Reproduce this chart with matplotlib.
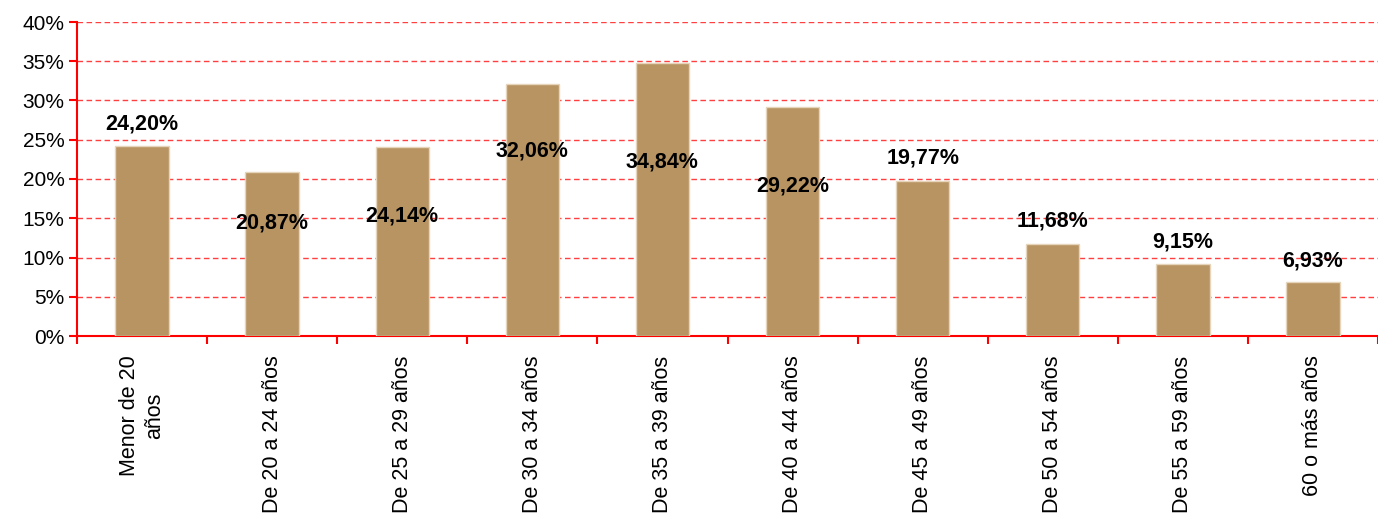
import matplotlib.pyplot as plt
from matplotlib.ticker import FixedLocator, PercentFormatter

plt.rcParams['font.family'] = ['Liberation Sans', 'DejaVu Sans']

categories = ["Menor de 20\naños", "De 20 a 24 años", "De 25 a 29 años",
              "De 30 a 34 años", "De 35 a 39 años", "De 40 a 44 años",
              "De 45 a 49 años", "De 50 a 54 años", "De 55 a 59 años",
              "60 o más años"]
values = [24.20, 20.87, 24.14, 32.06, 34.84, 29.22, 19.77, 11.68, 9.15, 6.93]
labels = ["24,20%", "20,87%", "24,14%", "32,06%", "34,84%", "29,22%",
          "19,77%", "11,68%", "9,15%", "6,93%"]
# where each data label sits (y in %), as in the original
label_y = [27.0, 14.4, 15.3, 23.6, 22.2, 19.1, 22.7, 14.6, 12.0, 9.6]

red = "#FF0000"

fig = plt.figure(figsize=(13.78, 5.17), dpi=100)
ax = fig.add_axes([77 / 1378, 1 - 336 / 517, 1 - 77 / 1378, (336 - 22) / 517])

x = range(len(categories))
ax.bar(x, values, width=0.41, color="#B89462", edgecolor="#E6D5BA",
       linewidth=1, zorder=3)

for i, (lab, ly) in enumerate(zip(labels, label_y)):
    ax.text(i, ly, lab, ha="center", va="center", fontsize=15.5,
            fontweight="bold", color="black", zorder=4)

ax.set_xlim(-0.5, len(categories) - 0.5)
ax.set_ylim(0, 40)
ax.set_yticks(range(0, 41, 5))
ax.yaxis.set_major_formatter(PercentFormatter(decimals=0))
ax.yaxis.grid(True, color="#FF4040", linestyle=(0, (4, 2.5)), linewidth=1)
ax.set_axisbelow(True)

ax.set_xticks(list(x))
ax.set_xticklabels(categories, rotation=90, va="top", ha="center",
                   multialignment="center")
ax.xaxis.set_minor_locator(FixedLocator([i - 0.5 for i in range(len(categories) + 1)]))
ax.tick_params(axis="x", which="major", length=0, pad=14, labelsize=15.5)
ax.tick_params(axis="x", which="minor", length=6, width=1.5, color=red)
ax.tick_params(axis="y", length=6, width=1.5, color=red, labelsize=15, pad=3)

for side in ("top", "right"):
    ax.spines[side].set_visible(False)
for side in ("left", "bottom"):
    ax.spines[side].set_color(red)
    ax.spines[side].set_linewidth(1.5)

fig.savefig("out.png", dpi=100)
